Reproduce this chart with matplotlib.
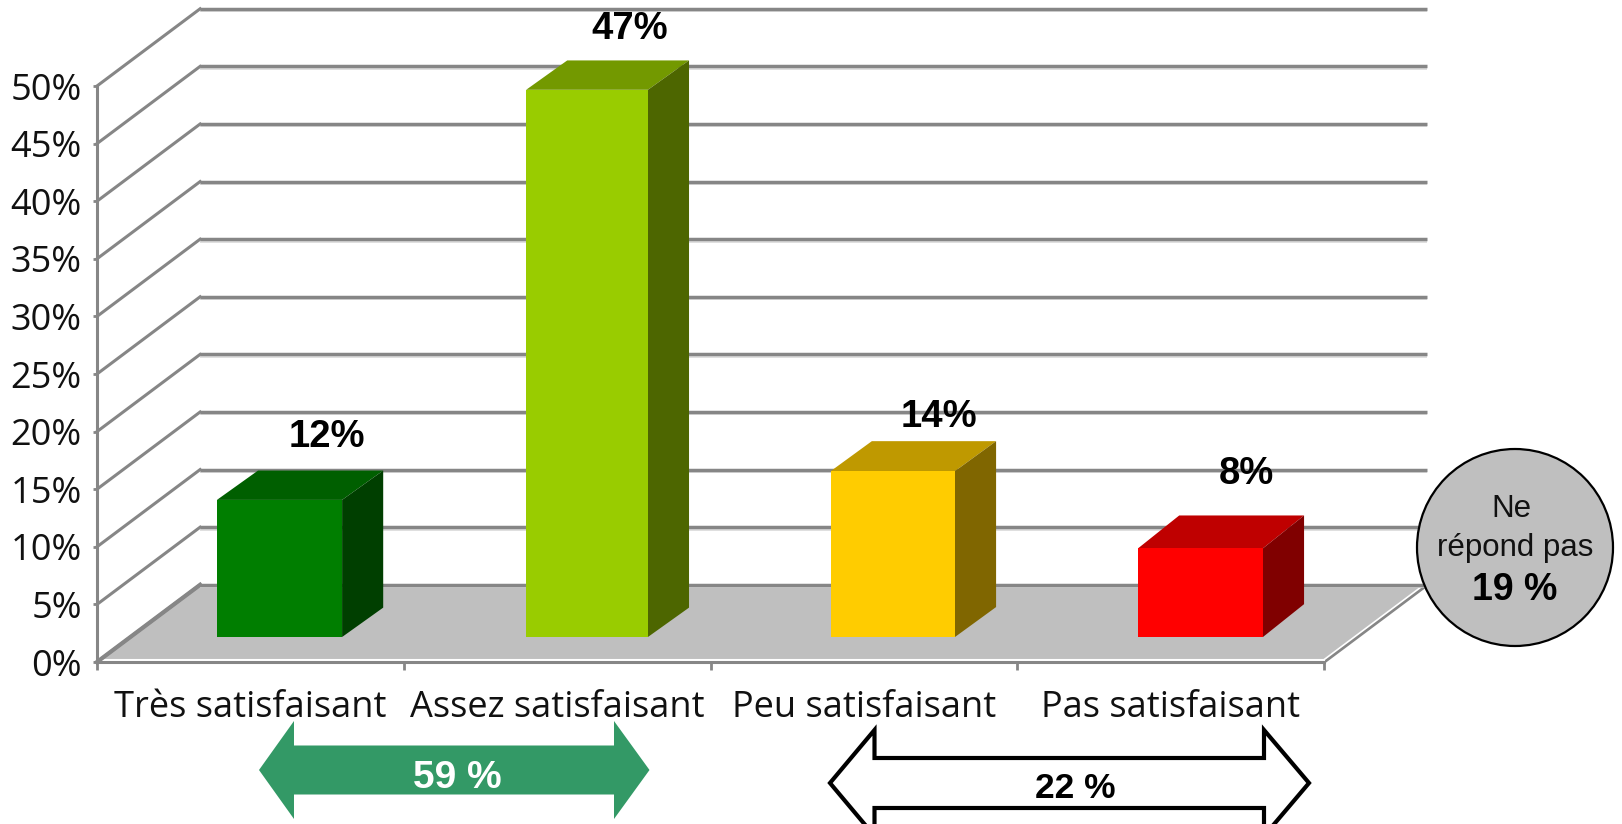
import matplotlib
matplotlib.use('Agg')
import matplotlib.pyplot as plt
from matplotlib.patches import Polygon, Ellipse
from matplotlib.transforms import Affine2D

# Data
categories = ['Très satisfaisant', 'Assez satisfaisant', 'Peu satisfaisant', 'Pas satisfaisant']
bar_heights = [11.9, 47.5, 14.4, 7.7]
bar_labels = ['12%', '47%', '14%', '8%']
bar_colors = ['#007E00', '#99CC00', '#FFCC00', '#FF0000']
y_ticks = [0, 5, 10, 15, 20, 25, 30, 35, 40, 45, 50]
y_tick_labels = ['0%', '5%', '10%', '15%', '20%', '25%', '30%', '35%', '40%', '45%', '50%']
positive_group = '59 %'
negative_group = '22 %'
no_answer_value = '19 %'

# Layout of the oblique 3D look, in axis units
W, H = 1622, 824
floor_dx, floor_dy = 0.336, 6.7
bar_lefts = [0.391, 1.399, 2.392, 3.394]
bar_rights = [0.799, 1.796, 2.797, 3.801]
bar_dx = 0.134
bar_dys = [2.55, 2.55, 2.6, 2.85]
bar_base = 2.17
label_shift = [(0.155, 2.05), (0.138, 1.85), (0.15, 1.25), (0.148, 2.7)]
grid_color = '#868686'
halo_color = '#D9D9D9'
floor_color = '#BFBFBF'

plt.rcParams['font.family'] = 'Liberation Sans'

fig = plt.figure(figsize=(W / 100, H / 100), dpi=100)
ax = fig.add_axes([97 / W, (H - 662) / H, 1227 / W, 576 / H])
ax.set_xlim(0, 4)
ax.set_ylim(0, 50)
ax.patch.set_visible(False)

# Helper for shapes placed in picture pixels
px = Affine2D().scale(1 / W, -1 / H).translate(0, 1) + fig.transFigure

# Axes and ticks
for side in ['top', 'right']:
    ax.spines[side].set_visible(False)
for side in ['left', 'bottom']:
    ax.spines[side].set_color(grid_color)
    ax.spines[side].set_linewidth(2.2)
ax.set_yticks(y_ticks)
ax.set_yticklabels(y_tick_labels, fontfamily='Open Sans', fontsize=26, color='#111111')
ax.tick_params(axis='y', length=3, width=2, color=grid_color, pad=8)
ax.set_xticks(range(5))
ax.set_xticklabels([])
ax.tick_params(axis='x', length=6, width=2, color=grid_color)
ax.set_xticks([i + 0.5 for i in range(4)], minor=True)
ax.set_xticklabels(categories, minor=True, fontfamily='Open Sans', fontsize=26, color='#111111')
ax.tick_params(axis='x', which='minor', length=0, pad=20)

# Floor
ax.add_patch(Polygon([(0, 0), (floor_dx, floor_dy), (4 + floor_dx, floor_dy), (4, 0)],
                     facecolor=floor_color, edgecolor='none', clip_on=False, zorder=1))
ax.plot([0, 4], [0.17, 0.17], color='white', lw=1.5, clip_on=False, zorder=1.5)
ax.plot([4, 4 + floor_dx], [0, floor_dy], color=grid_color, lw=2.4, clip_on=False, zorder=1.4)
ax.plot([3.995, 4 + floor_dx - 0.005], [0.1, floor_dy + 0.1], color='white', lw=1.2, clip_on=False, zorder=1.5)
ax.plot([0, floor_dx], [0, floor_dy], color=grid_color, lw=3, clip_on=False, zorder=2)

# Gridlines on the back and side walls
for v in y_ticks:
    ax.plot([floor_dx, 4 + floor_dx], [v + floor_dy - 0.2, v + floor_dy - 0.2], color=halo_color,
            lw=1.2, clip_on=False, zorder=1.8, solid_capstyle='butt')
    ax.plot([floor_dx, 4 + floor_dx], [v + floor_dy, v + floor_dy], color=grid_color,
            lw=2.5, clip_on=False, zorder=2, solid_capstyle='butt')
    ax.plot([0, floor_dx], [v, v + floor_dy], color=grid_color, lw=2.2, clip_on=False, zorder=2)

# Bars: front, top and side faces
for i, value in enumerate(bar_heights):
    left = bar_lefts[i]
    right = bar_rights[i]
    top = bar_base + value
    dy = bar_dys[i]
    r, g, b = matplotlib.colors.to_rgb(bar_colors[i])
    ax.add_patch(Polygon([(left, bar_base), (right, bar_base), (right, top), (left, top)],
                         facecolor=bar_colors[i], edgecolor='none', clip_on=False, zorder=4))
    ax.add_patch(Polygon([(left, top), (right, top), (right + bar_dx, top + dy), (left + bar_dx, top + dy)],
                         facecolor=(r * 0.75, g * 0.75, b * 0.75), edgecolor='none', clip_on=False, zorder=3))
    ax.add_patch(Polygon([(right, bar_base), (right + bar_dx, bar_base + dy),
                          (right + bar_dx, top + dy), (right, top)],
                         facecolor=(r * 0.5, g * 0.5, b * 0.5), edgecolor='none', clip_on=False, zorder=3))
    ax.text((left + right) / 2 + label_shift[i][0], top + dy + label_shift[i][1], bar_labels[i],
            ha='center', va='baseline', fontsize=27.5, fontweight='bold', color='black', zorder=6)

# "Ne répond pas" bubble
bubble = Ellipse((1515, 547.5), 196, 197, facecolor=floor_color, edgecolor='black', lw=1.6,
                 transform=px, zorder=5)
fig.add_artist(bubble)
fig.text(1511 / W, 1 - 517 / H, 'Ne', ha='center', va='baseline', fontsize=22.5, color='#111111', zorder=6)
fig.text(1515 / W, 1 - 556 / H, 'répond pas', ha='center', va='baseline', fontsize=22.5, color='#111111', zorder=6)
fig.text(1515 / W, 1 - 600 / H, no_answer_value, ha='center', va='baseline', fontsize=27,
         fontweight='bold', color='black', zorder=6)


# Double arrows under the axis
def double_arrow(x0, x1, inner0, inner1, yc, head_half, shaft_half, **kw):
    pts = [(x0, yc), (inner0, yc - head_half), (inner0, yc - shaft_half), (inner1, yc - shaft_half),
           (inner1, yc - head_half), (x1, yc), (inner1, yc + head_half), (inner1, yc + shaft_half),
           (inner0, yc + shaft_half), (inner0, yc + head_half)]
    fig.add_artist(Polygon(pts, closed=True, transform=px, **kw))


double_arrow(259, 649.5, 294, 614, 770, 49, 24.5, facecolor='#339966', edgecolor='none')
fig.text(457 / W, 1 - 788 / H, positive_group, ha='center', va='baseline', fontsize=28,
         fontweight='bold', color='white')
double_arrow(830, 1309, 874.5, 1264, 783, 53, 25, facecolor='white', edgecolor='black', lw=3,
             joinstyle='miter')
fig.text(1075 / W, 1 - 798 / H, negative_group, ha='center', va='baseline', fontsize=25.5,
         fontweight='bold', color='black')

fig.savefig('out.png', dpi=100, facecolor='white')
